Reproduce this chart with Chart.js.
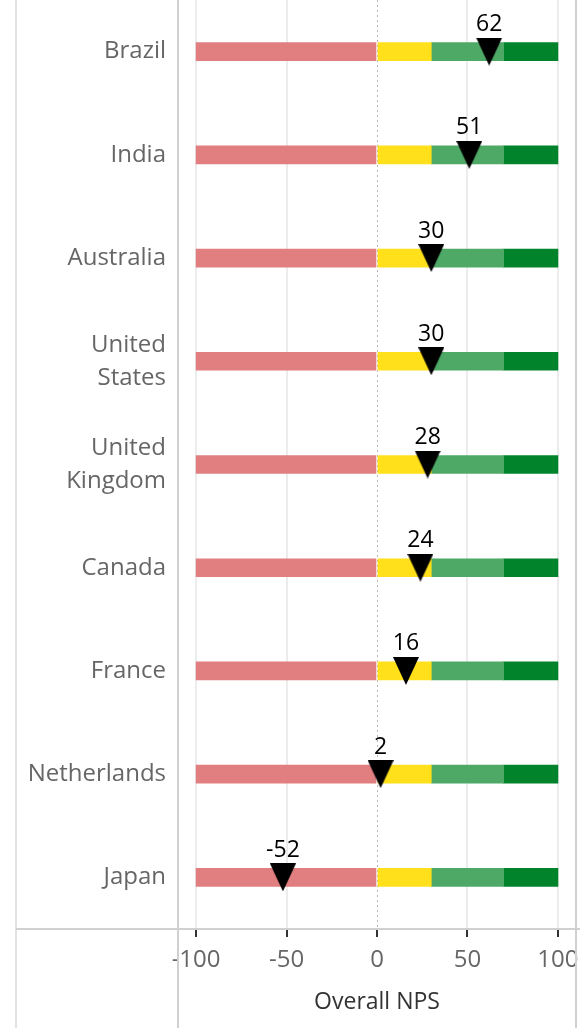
<!DOCTYPE html>
<html>
<head>
<meta charset="utf-8">
<script src="https://cdn.jsdelivr.net/npm/chart.js@4.4.1/dist/chart.umd.min.js"></script>
<style>
  html, body { margin: 0; padding: 0; background: #fff; }
  #wrap { width: 580px; height: 1028px; }
</style>
</head>
<body>
<div id="wrap"><canvas id="nps" width="580" height="1028"></canvas></div>
<script>
// countries, top to bottom
const countries = [
  'Brazil', 'India', 'Australia', ['United', 'States'], ['United', 'Kingdom'],
  'Canada', 'France', 'Netherlands', 'Japan'
];
// overall NPS per country
const npsScores = [62, 51, 30, 30, 28, 24, 16, 2, -52];
// colour bands: detractor / passive / promoter / strong promoter
const bandEdges = [-100, 0, 30, 70, 100];
const bandColors = ['#e17f80', '#ffe01b', '#4ea866', '#00832a'];
const axisTicks = [-100, -50, 0, 50, 100];

const FONT = '"Open Sans", "DejaVu Sans", sans-serif';

// downward triangle used as the marker
const tri = document.createElement('canvas');
tri.width = 26;
tri.height = 28;
const tctx = tri.getContext('2d');
tctx.fillStyle = '#000';
tctx.beginPath();
tctx.moveTo(0, 0);
tctx.lineTo(26, 0);
tctx.lineTo(13, 28);
tctx.closePath();
tctx.fill();

const bandSets = bandColors.map((c, b) => ({
  type: 'bar',
  data: countries.map(() => [bandEdges[b], bandEdges[b + 1]]),
  backgroundColor: c,
  barThickness: 18,
  grouped: false,
  order: 1
}));

// frame lines, dotted zero line
const framePlugin = {
  id: 'frame',
  beforeDatasetsDraw(chart) {
    const { ctx, chartArea, scales } = chart;
    const x0 = scales.x.getPixelForValue(0);
    ctx.save();
    ctx.strokeStyle = '#b8b8b8';
    ctx.lineWidth = 1;
    ctx.setLineDash([2, 3]);
    ctx.beginPath();
    ctx.moveTo(Math.round(x0) + 0.5, 0);
    ctx.lineTo(Math.round(x0) + 0.5, chartArea.bottom);
    ctx.stroke();
    ctx.restore();
  },
  afterDraw(chart) {
    const { ctx, chartArea } = chart;
    ctx.save();
    ctx.lineWidth = 2;
    ctx.strokeStyle = '#e3e3e3';
    ctx.beginPath();
    ctx.moveTo(16, 0);
    ctx.lineTo(16, chart.height);
    ctx.stroke();
    ctx.strokeStyle = '#d0d0d0';
    ctx.beginPath();
    ctx.moveTo(chartArea.right, 0);
    ctx.lineTo(chartArea.right, chart.height);
    ctx.moveTo(16, chartArea.bottom);
    ctx.lineTo(chart.width, chartArea.bottom);
    ctx.moveTo(chartArea.left, 0);
    ctx.lineTo(chartArea.left, chart.height);
    ctx.stroke();
    ctx.restore();
  }
};

// value text above each marker
const valuePlugin = {
  id: 'values',
  afterDatasetsDraw(chart) {
    const { ctx } = chart;
    const meta = chart.getDatasetMeta(0);
    ctx.save();
    ctx.fillStyle = '#000';
    ctx.font = '23px ' + FONT;
    ctx.textAlign = 'center';
    ctx.textBaseline = 'middle';
    meta.data.forEach((pt, i) => {
      ctx.fillText(String(npsScores[i]), pt.x, pt.y - 27);
    });
    ctx.restore();
  }
};

new Chart(document.getElementById('nps'), {
  data: {
    labels: countries,
    datasets: [
      {
        type: 'line',
        data: npsScores,
        showLine: false,
        pointStyle: tri,
        pointRadius: 13,
        clip: false,
        order: 0
      },
      ...bandSets
    ]
  },
  options: {
    indexAxis: 'y',
    responsive: false,
    animation: false,
    events: [],
    layout: { autoPadding: false, padding: { top: -4, right: 4, left: 0, bottom: 0 } },
    plugins: {
      legend: { display: false },
      tooltip: { enabled: false }
    },
    scales: {
      x: {
        type: 'linear',
        min: -110,
        max: 110,
        afterBuildTicks: (scale) => {
          scale.ticks = axisTicks.map(v => ({ value: v }));
        },
        afterFit: (scale) => {
          scale.height = 99;
          scale.paddingLeft = 0;
          scale.paddingRight = 0;
        },
        grid: {
          color: (c) => (c.tick && c.tick.value === 0 ? 'rgba(0,0,0,0)' : '#ececec'),
          lineWidth: 2,
          tickLength: 8,
          tickColor: '#333',
          tickWidth: 2
        },
        border: { display: false },
        ticks: {
          color: '#666',
          font: { family: FONT, size: 24 },
          padding: 9
        },
        title: {
          display: true,
          text: 'Overall NPS',
          color: '#333',
          font: { family: FONT, size: 23 },
          padding: { top: 4, bottom: 12 }
        }
      },
      y: {
        type: 'category',
        afterFit: (scale) => {
          scale.width = 178;
          scale.paddingTop = 0;
          scale.paddingBottom = 0;
        },
        grid: { color: 'rgba(0,0,0,0)', drawTicks: false },
        border: { display: false },
        ticks: {
          color: '#666',
          font: { family: FONT, size: 24, lineHeight: 1.38 },
          padding: 12
        }
      }
    }
  },
  plugins: [framePlugin, valuePlugin]
});
</script>
</body>
</html>
